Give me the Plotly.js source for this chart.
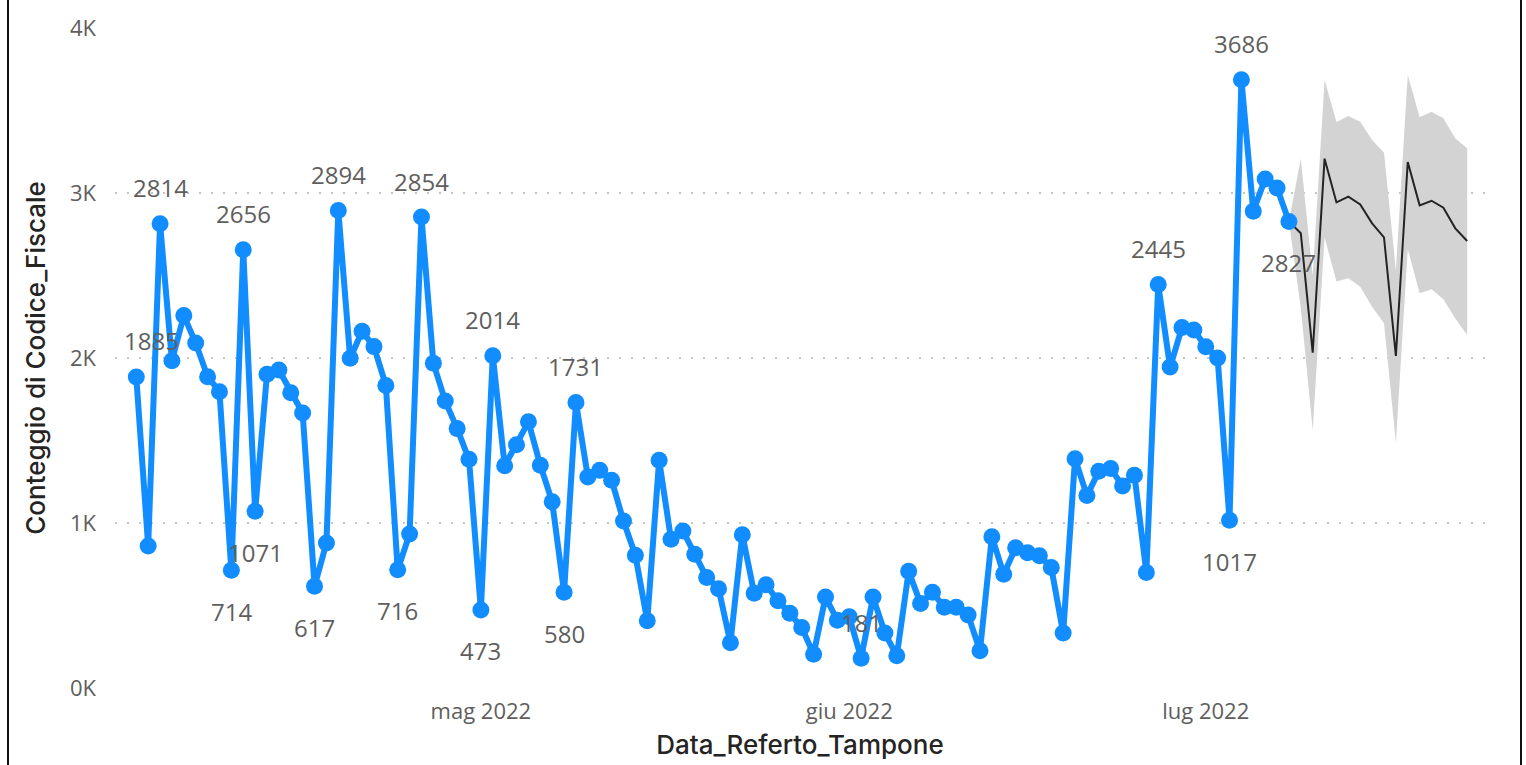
<!DOCTYPE html>
<html><head><meta charset="utf-8">
<script src="https://cdn.plot.ly/plotly-3.0.1.min.js"></script>
<style>
html,body{margin:0;padding:0;background:#fff;overflow:hidden}
#chart{width:1526px;height:765px;position:absolute;left:0;top:0}
.edge{position:absolute;top:0;width:2px;height:765px;background:#111}
</style></head><body>
<div id="chart"></div>
<div class="edge" style="left:7px"></div>
<div class="edge" style="left:1520px"></div>
<script>
const actualDates = [
'2022-04-02','2022-04-03','2022-04-04','2022-04-05','2022-04-06','2022-04-07','2022-04-08','2022-04-09','2022-04-10','2022-04-11',
'2022-04-12','2022-04-13','2022-04-14','2022-04-15','2022-04-16','2022-04-17','2022-04-18','2022-04-19','2022-04-20','2022-04-21',
'2022-04-22','2022-04-23','2022-04-24','2022-04-25','2022-04-26','2022-04-27','2022-04-28','2022-04-29','2022-04-30',
'2022-05-01','2022-05-02','2022-05-03','2022-05-04','2022-05-05','2022-05-06','2022-05-07','2022-05-08','2022-05-09','2022-05-10',
'2022-05-11','2022-05-12','2022-05-13','2022-05-14','2022-05-15','2022-05-16','2022-05-17','2022-05-18','2022-05-19','2022-05-20',
'2022-05-21','2022-05-22','2022-05-23','2022-05-24','2022-05-25','2022-05-26','2022-05-27','2022-05-28','2022-05-29','2022-05-30','2022-05-31',
'2022-06-01','2022-06-02','2022-06-03','2022-06-04','2022-06-05','2022-06-06','2022-06-07','2022-06-08','2022-06-09','2022-06-10',
'2022-06-11','2022-06-12','2022-06-13','2022-06-14','2022-06-15','2022-06-16','2022-06-17','2022-06-18','2022-06-19','2022-06-20',
'2022-06-21','2022-06-22','2022-06-23','2022-06-24','2022-06-25','2022-06-26','2022-06-27','2022-06-28','2022-06-29','2022-06-30',
'2022-07-01','2022-07-02','2022-07-03','2022-07-04','2022-07-05','2022-07-06','2022-07-07','2022-07-08'];
const actualCounts = [
1885,861,2814,1984,2257,2091,1887,1796,714,2656,
1071,1901,1927,1790,1667,617,879,2894,1998,2162,
2069,1834,716,933,2854,1968,1739,1572,1386,
473,2014,1347,1474,1613,1350,1129,580,1731,1279,
1319,1259,1012,804,408,1380,901,952,810,670,
602,274,929,574,626,529,453,366,205,551,410,
432,181,551,333,195,707,512,580,489,489,
442,226,917,689,850,820,802,731,333,1390,
1166,1313,1330,1225,1290,700,2445,1945,2185,2170,
2068,2000,1017,3686,2890,3085,3030,2827];
const forecastDates = ['2022-07-08','2022-07-09','2022-07-10','2022-07-11','2022-07-12','2022-07-13','2022-07-14','2022-07-15',
'2022-07-16','2022-07-17','2022-07-18','2022-07-19','2022-07-20','2022-07-21','2022-07-22','2022-07-23'];
const forecastCounts = [2827,2756,2032,3208,2943,2978,2931,2816,2731,2012,3188,2925,2953,2911,2786,2709];
const forecastUpper  = [2827,3209,2500,3685,3430,3467,3432,3321,3244,2532,3715,3459,3493,3453,3331,3271];
const forecastLower  = [2827,2303,1564,2731,2463,2483,2432,2311,2210,1487,2661,2392,2416,2356,2240,2139];
const labeledDates = ['2022-04-02','2022-04-04','2022-04-10','2022-04-11','2022-04-12','2022-04-17','2022-04-19','2022-04-24',
'2022-04-26','2022-05-01','2022-05-02','2022-05-08','2022-05-09','2022-06-02','2022-06-27','2022-07-03','2022-07-04','2022-07-08'];
const yTickValues = [0,1000,2000,3000,4000];
const yTickLabels = ['0K','1K','2K','3K','4K'];
const xTickValues = ['2022-05-01','2022-06-01','2022-07-01'];
const xTickLabels = ['mag 2022','giu 2022','lug 2022'];

const BLUE = '#118DFF';
const LABEL_COLOR = '#605E5C';
const FONT = '"Open Sans","Noto Sans",sans-serif';
const TITLE_FONT = 'Inter,"Open Sans",sans-serif';
const Y_MAX = 4000;

const bandTrace = {
  x: forecastDates.concat(forecastDates.slice().reverse()),
  y: forecastUpper.concat(forecastLower.slice().reverse()),
  type: 'scatter', mode: 'lines', fill: 'toself',
  fillcolor: '#D3D3D3', line: {width: 0, color: 'rgba(0,0,0,0)'},
  hoverinfo: 'skip', showlegend: false
};
const forecastTrace = {
  x: forecastDates, y: forecastCounts, type: 'scatter', mode: 'lines',
  line: {color: '#252423', width: 2}, showlegend: false
};
const actualTrace = {
  x: actualDates, y: actualCounts, type: 'scatter', mode: 'lines+markers',
  line: {color: BLUE, width: 6}, marker: {color: BLUE, size: 17},
  showlegend: false, cliponaxis: false
};

const annotations = labeledDates.map(d => {
  const i = actualDates.indexOf(d);
  const v = actualCounts[i];
  const prev = i > 0 ? actualCounts[i-1] : -Infinity;
  const next = i < actualCounts.length - 1 ? actualCounts[i+1] : -Infinity;
  const isMin = (i > 0 ? v < prev : true) && (i < actualCounts.length - 1 ? v < next : true);
  const roomBelow = v > Y_MAX * 55 / 660;
  const below = isMin && roomBelow;
  const a = {
    x: d, y: v, xref: 'x', yref: 'y', text: String(v), showarrow: false,
    font: {family: FONT, size: 24, color: LABEL_COLOR},
    yshift: below ? -41 : 36
  };
  if (i === 0) { a.xanchor = 'left'; a.xshift = -14; }
  return a;
});

const layout = {
  width: 1526, height: 765,
  margin: {l: 115, r: 41, t: 28, b: 77},
  paper_bgcolor: '#fff', plot_bgcolor: '#fff',
  font: {family: FONT, color: LABEL_COLOR},
  showlegend: false,
  xaxis: {
    type: 'date', range: ['2022-03-31 05:00', '2022-07-24 12:00'],
    tickvals: xTickValues, ticktext: xTickLabels,
    showgrid: false, zeroline: false, showline: false, ticks: '',
    tickfont: {family: FONT, size: 22, color: LABEL_COLOR},
    ticklabelstandoff: 8,
    title: {text: 'Data_Referto_Tampone', font: {family: TITLE_FONT, size: 26, weight: 500, color: '#252423'}, standoff: 11}
  },
  yaxis: {
    range: [0, Y_MAX], tickvals: yTickValues, ticktext: yTickLabels,
    showgrid: true, gridcolor: '#C8C6C4', gridwidth: 2, griddash: '2px,10px',
    zeroline: false, showline: false, ticks: '',
    tickfont: {family: FONT, size: 22, color: LABEL_COLOR},
    ticklabelstandoff: 18,
    title: {text: 'Conteggio di Codice_Fiscale', font: {family: TITLE_FONT, size: 26, weight: 500, color: '#252423'}, standoff: 16}
  },
  annotations: annotations
};

Plotly.newPlot('chart', [bandTrace, forecastTrace, actualTrace], layout, {displayModeBar: false, staticPlot: true});
</script>
</body></html>
